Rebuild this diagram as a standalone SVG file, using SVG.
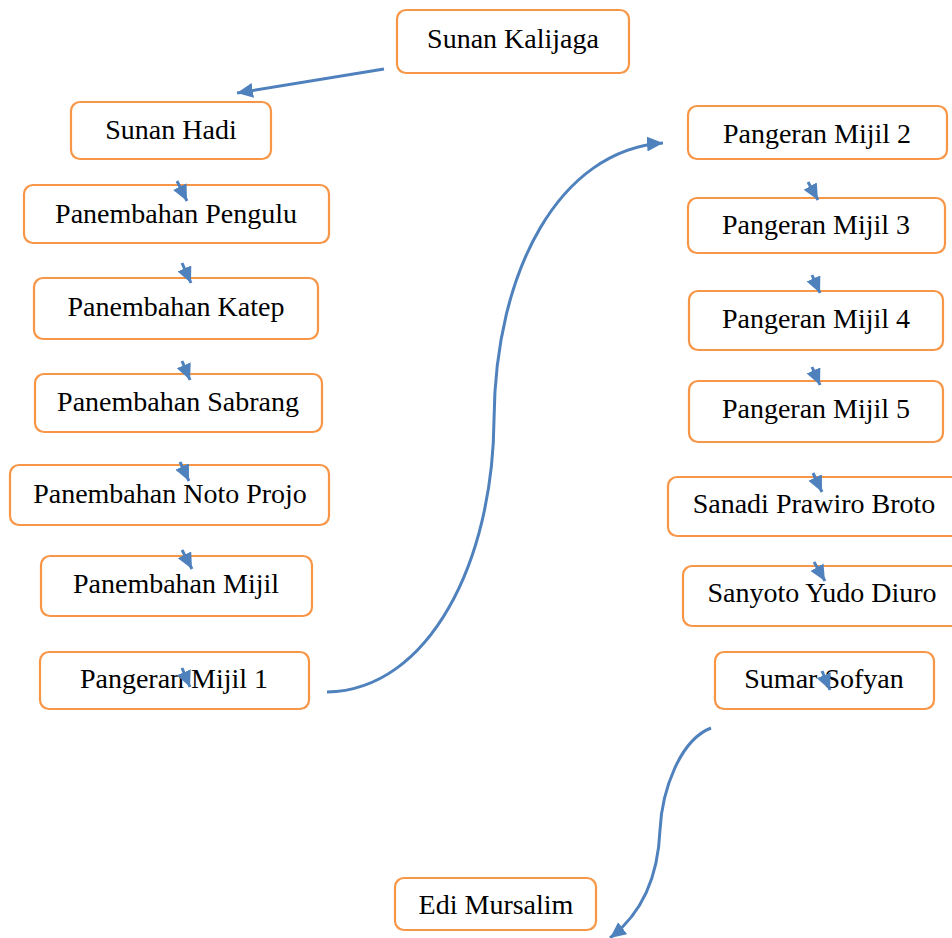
<svg xmlns="http://www.w3.org/2000/svg" width="952" height="938" viewBox="0 0 952 938">
<defs>
<style>
.box{fill:#fff;stroke:#F79646;stroke-width:2.2}
.lbl{font-family:"Liberation Serif","Times New Roman",serif;font-size:28px;fill:#000;text-anchor:middle}
.con{fill:none;stroke:#4F81BD;stroke-width:3}
</style>
<marker id="ah" markerUnits="userSpaceOnUse" markerWidth="18" markerHeight="16" refX="16" refY="7.5" orient="auto">
<path d="M0,0 L16,7.5 L0,15 z" fill="#4F81BD"/>
</marker>
</defs>
<rect width="952" height="938" fill="#fff"/>
<g id="n-kalijaga"><rect class="box" x="397" y="10" width="232" height="63" rx="9"/><text class="lbl" x="513" y="48">Sunan Kalijaga</text></g>
<g id="n-hadi"><rect class="box" x="71" y="102" width="200" height="57" rx="9"/><text class="lbl" x="171" y="139">Sunan Hadi</text></g>
<g id="n-pengulu"><rect class="box" x="24" y="185" width="305" height="58" rx="9"/><text class="lbl" x="176" y="223">Panembahan Pengulu</text></g>
<g id="n-katep"><rect class="box" x="34" y="278" width="284" height="61" rx="9"/><text class="lbl" x="176" y="316">Panembahan Katep</text></g>
<g id="n-sabrang"><rect class="box" x="35" y="374" width="287" height="58" rx="9"/><text class="lbl" x="178" y="411">Panembahan Sabrang</text></g>
<g id="n-notoprojo"><rect class="box" x="10" y="465" width="319" height="60" rx="9"/><text class="lbl" x="170" y="503">Panembahan Noto Projo</text></g>
<g id="n-pmijil"><rect class="box" x="41" y="556" width="271" height="60" rx="9"/><text class="lbl" x="176" y="593">Panembahan Mijil</text></g>
<g id="n-mijil1"><rect class="box" x="40" y="652" width="269" height="57" rx="9"/><text class="lbl" x="174" y="688">Pangeran Mijil 1</text></g>
<g id="n-mijil2"><rect class="box" x="688" y="106" width="259" height="53" rx="9"/><text class="lbl" x="817" y="143">Pangeran Mijil 2</text></g>
<g id="n-mijil3"><rect class="box" x="688" y="198" width="257" height="55" rx="9"/><text class="lbl" x="816" y="234">Pangeran Mijil 3</text></g>
<g id="n-mijil4"><rect class="box" x="689" y="291" width="254" height="59" rx="9"/><text class="lbl" x="816" y="328">Pangeran Mijil 4</text></g>
<g id="n-mijil5"><rect class="box" x="689" y="381" width="254" height="61" rx="9"/><text class="lbl" x="816" y="418">Pangeran Mijil 5</text></g>
<g id="n-sanadi"><rect class="box" x="668" y="477" width="293" height="59" rx="9"/><text class="lbl" x="814" y="513">Sanadi Prawiro Broto</text></g>
<g id="n-sanyoto"><rect class="box" x="683" y="566" width="279" height="60" rx="9"/><text class="lbl" x="822" y="602">Sanyoto Yudo Diuro</text></g>
<g id="n-sumar"><rect class="box" x="715" y="652" width="219" height="57" rx="9"/><text class="lbl" x="824" y="688">Sumar Sofyan</text></g>
<g id="n-edi"><rect class="box" x="395" y="878" width="201" height="52" rx="9"/><text class="lbl" x="496" y="914">Edi Mursalim</text></g>
<g id="connectors">
<path class="con" marker-end="url(#ah)" d="M384,69 L237,93"/>
<path class="con" marker-end="url(#ah)" d="M177,181 L187,201"/>
<path class="con" marker-end="url(#ah)" d="M182,263 L191,283"/>
<path class="con" marker-end="url(#ah)" d="M182,361 L190,380"/>
<path class="con" marker-end="url(#ah)" d="M180,462 L189,481"/>
<path class="con" marker-end="url(#ah)" d="M182,550 L192,569"/>
<path class="con" marker-end="url(#ah)" d="M182,668 L190,687"/>
<path class="con" marker-end="url(#ah)" d="M808,182 L818,200"/>
<path class="con" marker-end="url(#ah)" d="M812,275 L820,293"/>
<path class="con" marker-end="url(#ah)" d="M812,367 L820,385"/>
<path class="con" marker-end="url(#ah)" d="M813,473 L822,492"/>
<path class="con" marker-end="url(#ah)" d="M814,562 L825,581"/>
<path class="con" marker-end="url(#ah)" d="M822,671 L830,690"/>
<path class="con" marker-end="url(#ah)" d="M327,692 C430,690 493,560 494,420 C495,270 560,150 663,143"/>
<path class="con" marker-end="url(#ah)" d="M711,728 C680,740 662,790 660,830 C658,880 640,915 610,938"/>
</g>
</svg>
